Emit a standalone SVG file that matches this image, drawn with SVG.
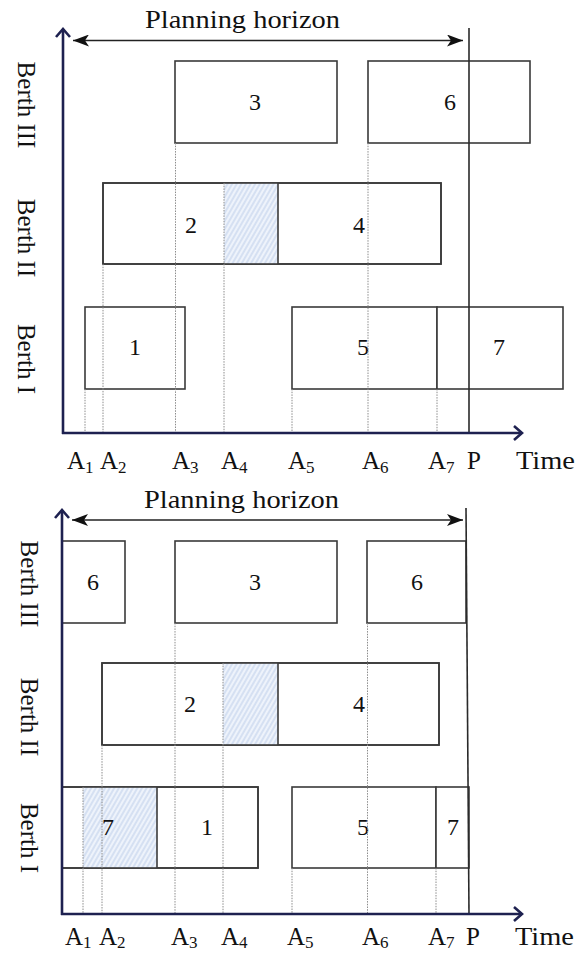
<svg xmlns="http://www.w3.org/2000/svg" width="584" height="954" viewBox="0 0 584 954" font-family="'Liberation Serif', 'Times New Roman', Times, serif">
<style>
.box{fill:#fff;stroke:#3a3a3a;stroke-width:1.6}
.edge{fill:none;stroke:#3a3a3a;stroke-width:1.6}
.dot{stroke:#8c8c8c;stroke-width:1;stroke-dasharray:1.5 1.2;fill:none}
.axis{stroke:#1e2150;stroke-width:2.6;fill:none}
.ph{stroke:#222;stroke-width:1.6;fill:none}
.pl{stroke:#2a2a2a;stroke-width:1.6;fill:none}
text{font-family:'Liberation Serif','Times New Roman',Times,serif;fill:#111}
.num{font-size:24px;text-anchor:middle}
.ax{font-size:25px}
.sub{font-size:17px}
.berth{font-size:25px;text-anchor:middle}
</style>
<defs>
<pattern id="hatch" width="4" height="4" patternUnits="userSpaceOnUse" patternTransform="rotate(30)">
<rect width="4" height="4" fill="#eef3fb"/>
<line x1="1" y1="0" x2="1" y2="4" stroke="#bccde9" stroke-width="1"/>
</pattern>
<marker id="ah" viewBox="0 0 16 12" refX="16" refY="6" markerWidth="16" markerHeight="12" markerUnits="userSpaceOnUse" orient="auto-start-reverse">
<path d="M0,0 L16,6 L0,12 L4,6 Z" fill="#111"/>
</marker>
</defs>
<rect width="584" height="954" fill="#fff"/>

<!-- TOP PANEL -->
<g id="top-nodes">
<g id="t-box3"><rect class="box" x="175" y="61" width="162" height="82"/><text class="num" x="255" y="110">3</text></g>
<g id="t-box6"><rect class="box" x="368" y="61" width="162" height="82"/><text class="num" x="450" y="110">6</text></g>
<g id="t-row2">
<rect class="box" x="103" y="183" width="338" height="81"/>
<rect x="224" y="183" width="54" height="81" fill="url(#hatch)"/>
<rect class="edge" x="103" y="183" width="338" height="81"/>
<line class="edge" x1="278" y1="183" x2="278" y2="264"/>
</g>
<g id="t-box2"><text class="num" x="191" y="233">2</text></g>
<g id="t-box4"><text class="num" x="359" y="233">4</text></g>
<g id="t-box1"><rect class="box" x="85" y="307" width="100" height="82"/><text class="num" x="135" y="355">1</text></g>
<g id="t-box5"><rect class="box" x="292" y="307" width="145" height="82"/><text class="num" x="363" y="355">5</text></g>
<g id="t-box7"><rect class="box" x="437" y="307" width="126" height="82"/><text class="num" x="499" y="355">7</text></g>
</g>

<g id="top-connectors">
<line class="dot" x1="85" y1="389" x2="85" y2="433"/>
<line class="dot" x1="103" y1="264" x2="103" y2="433"/>
<line class="dot" x1="175.5" y1="143" x2="175.5" y2="433"/>
<line class="dot" x1="224" y1="183" x2="224" y2="433"/>
<line class="dot" x1="292" y1="389" x2="292" y2="433"/>
<line class="dot" x1="368" y1="143" x2="368" y2="433"/>
<line class="dot" x1="437" y1="389" x2="437" y2="433"/>
<line class="pl" x1="469" y1="28" x2="469" y2="433"/>
<line class="ph" x1="73" y1="40.5" x2="463" y2="40.5" marker-start="url(#ah)" marker-end="url(#ah)"/>
<line class="axis" x1="63" y1="434" x2="63" y2="29"/>
<polyline class="axis" points="56,37 63,29 70,37" stroke-width="2"/>
<line class="axis" x1="62" y1="433" x2="522" y2="433"/>
<polyline class="axis" points="514,426 522,433 514,440" stroke-width="2"/>
</g>

<g id="top-labels">
<text x="145" y="28" font-size="26" textLength="195" lengthAdjust="spacingAndGlyphs">Planning horizon</text>
<text class="berth" transform="translate(18,105) rotate(90)">Berth III</text>
<text class="berth" transform="translate(18,238) rotate(90)">Berth II</text>
<text class="berth" transform="translate(18,359) rotate(90)">Berth I</text>
<text class="ax" x="67" y="469">A<tspan class="sub" dy="4">1</tspan></text>
<text class="ax" x="100" y="469">A<tspan class="sub" dy="4">2</tspan></text>
<text class="ax" x="172" y="469">A<tspan class="sub" dy="4">3</tspan></text>
<text class="ax" x="221" y="469">A<tspan class="sub" dy="4">4</tspan></text>
<text class="ax" x="288" y="469">A<tspan class="sub" dy="4">5</tspan></text>
<text class="ax" x="362" y="469">A<tspan class="sub" dy="4">6</tspan></text>
<text class="ax" x="428" y="469">A<tspan class="sub" dy="4">7</tspan></text>
<text class="ax" x="467" y="469">P</text>
<text x="516" y="469" font-size="26" textLength="59" lengthAdjust="spacingAndGlyphs">Time</text>
</g>

<!-- BOTTOM PANEL -->
<g id="bottom-nodes">
<g id="b-box6a"><rect class="box" x="62" y="541" width="63" height="82"/><text class="num" x="93" y="590">6</text></g>
<g id="b-box3"><rect class="box" x="175" y="541" width="162" height="82"/><text class="num" x="255" y="590">3</text></g>
<g id="b-box6b"><rect class="box" x="367" y="541" width="99" height="82"/><text class="num" x="417" y="590">6</text></g>
<g id="b-row2">
<rect class="box" x="102" y="663" width="337" height="82"/>
<rect x="223" y="663" width="55" height="82" fill="url(#hatch)"/>
<rect class="edge" x="102" y="663" width="337" height="82"/>
<line class="edge" x1="278" y1="663" x2="278" y2="745"/>
</g>
<g id="b-box2"><text class="num" x="190" y="712">2</text></g>
<g id="b-box4"><text class="num" x="359" y="712">4</text></g>
<g id="b-row1">
<rect class="box" x="62" y="787" width="196" height="81"/>
<rect x="83" y="787" width="74" height="81" fill="url(#hatch)"/>
<rect class="edge" x="62" y="787" width="196" height="81"/>
<line class="edge" x1="157" y1="787" x2="157" y2="868"/>
</g>
<g id="b-box7a"><text class="num" x="108" y="835">7</text></g>
<g id="b-box1"><text class="num" x="207" y="835">1</text></g>
<g id="b-box5"><rect class="box" x="292" y="787" width="144" height="81"/><text class="num" x="363" y="835">5</text></g>
<g id="b-box7b"><rect class="box" x="436" y="787" width="33" height="81"/><text class="num" x="453" y="835">7</text></g>
</g>

<g id="bottom-connectors">
<line class="dot" x1="83" y1="787" x2="83" y2="914"/>
<line class="dot" x1="102" y1="745" x2="102" y2="914"/>
<line class="dot" x1="175" y1="623" x2="175" y2="914"/>
<line class="dot" x1="223" y1="663" x2="223" y2="914"/>
<line class="dot" x1="292" y1="868" x2="292" y2="914"/>
<line class="dot" x1="367.5" y1="623" x2="367.5" y2="914"/>
<line class="dot" x1="436" y1="868" x2="436" y2="914"/>
<line class="pl" x1="466" y1="508" x2="469" y2="914"/>
<line class="ph" x1="72" y1="520" x2="463" y2="520" marker-start="url(#ah)" marker-end="url(#ah)"/>
<line class="axis" x1="62" y1="915" x2="62" y2="510"/>
<polyline class="axis" points="55,518 62,510 69,518" stroke-width="2"/>
<line class="axis" x1="61" y1="914" x2="522" y2="914"/>
<polyline class="axis" points="514,907 522,914 514,921" stroke-width="2"/>
</g>

<g id="bottom-labels">
<text x="144" y="508" font-size="26" textLength="195" lengthAdjust="spacingAndGlyphs">Planning horizon</text>
<text class="berth" transform="translate(21,584) rotate(90)">Berth III</text>
<text class="berth" transform="translate(21,717) rotate(90)">Berth II</text>
<text class="berth" transform="translate(21,838) rotate(90)">Berth I</text>
<text class="ax" x="65" y="945">A<tspan class="sub" dy="3">1</tspan></text>
<text class="ax" x="99" y="945">A<tspan class="sub" dy="3">2</tspan></text>
<text class="ax" x="171" y="945">A<tspan class="sub" dy="3">3</tspan></text>
<text class="ax" x="221" y="945">A<tspan class="sub" dy="3">4</tspan></text>
<text class="ax" x="287" y="945">A<tspan class="sub" dy="3">5</tspan></text>
<text class="ax" x="362" y="945">A<tspan class="sub" dy="3">6</tspan></text>
<text class="ax" x="428" y="945">A<tspan class="sub" dy="3">7</tspan></text>
<text class="ax" x="466" y="945">P</text>
<text x="515" y="945" font-size="26" textLength="59" lengthAdjust="spacingAndGlyphs">Time</text>
</g>
</svg>
